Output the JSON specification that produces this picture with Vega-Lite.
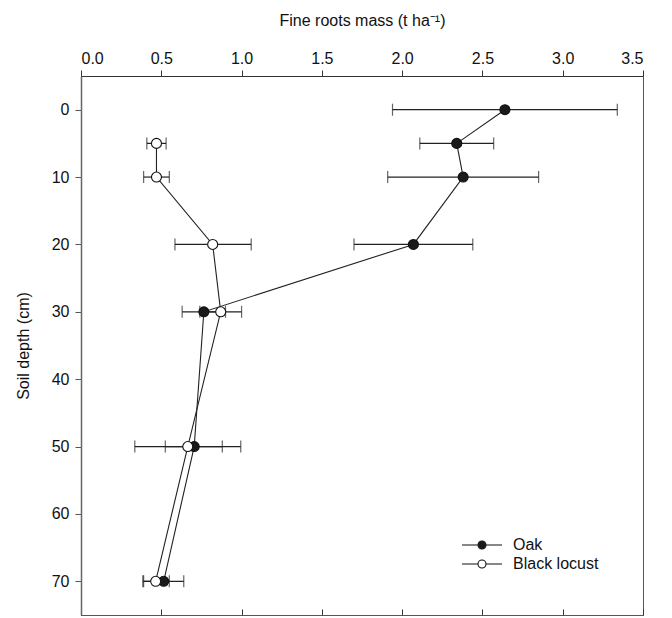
{
  "$schema": "https://vega.github.io/schema/vega-lite/v6.json",
  "width": 562,
  "height": 539,
  "autosize": "none",
  "padding": {"left": 81, "top": 76, "right": 29, "bottom": 3},
  "background": "white",
  "config": {
    "font": "Liberation Sans",
    "view": {"stroke": "#555", "strokeWidth": 1},
    "axis": {"grid": false, "labelFont": "Liberation Sans", "titleFont": "Liberation Sans", "labelFontSize": 16, "titleFontSize": 16, "titleFontWeight": "normal", "labelColor": "#111", "titleColor": "#111", "tickColor": "#333", "domainColor": "#333"}
  },
  "data": {
    "values": [
      {"series": "Oak", "depth": 0, "mass": 2.64, "lo": 1.94, "hi": 3.34},
      {"series": "Oak", "depth": 5, "mass": 2.34, "lo": 2.11, "hi": 2.57},
      {"series": "Oak", "depth": 10, "mass": 2.38, "lo": 1.91, "hi": 2.85},
      {"series": "Oak", "depth": 20, "mass": 2.07, "lo": 1.70, "hi": 2.44},
      {"series": "Oak", "depth": 30, "mass": 0.765, "lo": 0.63, "hi": 0.90},
      {"series": "Oak", "depth": 50, "mass": 0.705, "lo": 0.525, "hi": 0.88},
      {"series": "Oak", "depth": 70, "mass": 0.515, "lo": 0.39, "hi": 0.64},
      {"series": "Black locust", "depth": 5, "mass": 0.47, "lo": 0.41, "hi": 0.53},
      {"series": "Black locust", "depth": 10, "mass": 0.47, "lo": 0.39, "hi": 0.55},
      {"series": "Black locust", "depth": 20, "mass": 0.82, "lo": 0.585, "hi": 1.06},
      {"series": "Black locust", "depth": 30, "mass": 0.87, "lo": 0.74, "hi": 1.0},
      {"series": "Black locust", "depth": 50, "mass": 0.665, "lo": 0.335, "hi": 0.995},
      {"series": "Black locust", "depth": 70, "mass": 0.465, "lo": 0.385, "hi": 0.55}
    ]
  },
  "encoding": {
    "y": {
      "field": "depth", "type": "quantitative",
      "scale": {"domain": [-5, 75], "reverse": true, "nice": false, "zero": false},
      "axis": {"title": "Soil depth (cm)", "values": [0, 10, 20, 30, 40, 50, 60, 70], "tickSize": 6, "labelPadding": 6, "titlePadding": 20, "domainColor": "#666", "domainWidth": 1.5, "tickColor": "#555"}
    }
  },
  "layer": [
    {
      "mark": {"type": "rule", "color": "#222", "strokeWidth": 1.2},
      "encoding": {
        "x": {"field": "lo", "type": "quantitative",
          "scale": {"domain": [0, 3.5], "nice": false},
          "axis": {"orient": "top", "title": "Fine roots mass (t ha⁻¹)", "values": [0, 0.5, 1, 1.5, 2, 2.5, 3, 3.5], "format": ".1f", "tickSize": 6, "labelPadding": 4, "titlePadding": 22}},
        "x2": {"field": "hi"}
      }
    },
    {
      "mark": {"type": "tick", "orient": "vertical", "color": "#222", "size": 12, "thickness": 1.2},
      "encoding": {"x": {"field": "lo", "type": "quantitative", "axis": null}}
    },
    {
      "mark": {"type": "tick", "orient": "vertical", "color": "#222", "size": 12, "thickness": 1.2},
      "encoding": {"x": {"field": "hi", "type": "quantitative", "axis": null}}
    },
    {
      "mark": {"type": "line", "color": "#222", "strokeWidth": 1.1},
      "encoding": {
        "x": {"field": "mass", "type": "quantitative", "axis": null},
        "detail": {"field": "series"},
        "order": {"field": "depth", "type": "quantitative"}
      }
    },
    {
      "mark": {"type": "point", "shape": "circle", "size": 100, "filled": false, "stroke": "#111", "strokeWidth": 1.1, "opacity": 1},
      "encoding": {
        "x": {"field": "mass", "type": "quantitative",
          "axis": {"orient": "bottom", "title": null, "labels": false, "tickSize": -6, "values": [0, 0.5, 1, 1.5, 2, 2.5, 3, 3.5], "domainColor": "#555"}},
        "fill": {
          "field": "series", "type": "nominal",
          "scale": {"domain": ["Oak", "Black locust"], "range": ["#1a1a1a", "#ffffff"]},
          "legend": {
            "title": null, "orient": "none", "legendX": 390, "legendY": 458,
            "symbolType": "M-2,0H-0.4M0.4,0H2M-0.4,0A0.4,0.4,0,1,1,0.4,0A0.4,0.4,0,1,1,-0.4,0Z",
            "symbolSize": 400, "symbolStrokeColor": "#111", "symbolStrokeWidth": 1.1,
            "labelFontSize": 16, "labelFont": "Liberation Sans", "labelColor": "#111", "labelOffset": 20, "rowPadding": 0, "padding": 0
          }
        }
      }
    }
  ],
  "resolve": {"axis": {"x": "independent"}}
}
